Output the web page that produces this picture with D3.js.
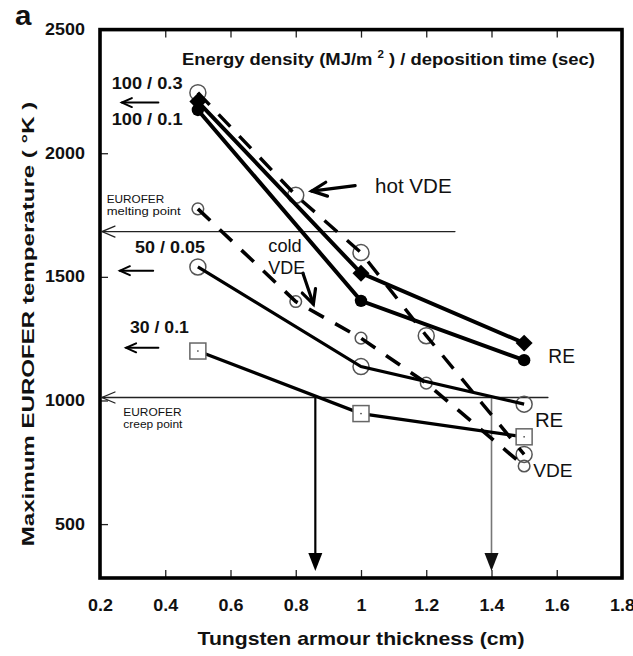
<!DOCTYPE html>
<html>
<head>
<meta charset="utf-8">
<script src="https://cdn.jsdelivr.net/npm/d3@7"></script>
<style>
  body { margin: 0; background: #fff; }
  svg { display: block; }
  text { font-family: "Liberation Sans", Arial, Helvetica, sans-serif; fill: #111; }
</style>
</head>
<body>
<svg id="chart" width="633" height="656"></svg>
<script>
// Tungsten armour thickness (cm) for the runaway-electron (RE) cases
const thickness = [0.5, 1.0, 1.5];
// Maximum EUROFER temperature (K), RE cases
const re100s03 = [2209, 1515, 1232];   // 100 MJ/m2 / 0.3 s  (filled diamonds)
const re100s01 = [2175, 1403, 1163];   // 100 MJ/m2 / 0.1 s  (filled circles)
const re50s005 = [1540, 1137, 985];    // 50 MJ/m2 / 0.05 s  (open circles)
const re30s01  = [1200, 947, 853];     // 30 MJ/m2 / 0.1 s   (open squares)

// VDE cases
const vdeThickness = [0.5, 0.8, 1.0, 1.2, 1.5];
const hotVDE  = [2245, 1830, 1598, 1262, 782];
const coldVDE = [1775, 1400, 1252, 1070, 735];

// EUROFER limits (K) and the thicknesses where the creep limit is reached
const meltingPoint = 1683;
const creepPoint = 1012;
const limitThickness = [0.86, 1.4];

const xTicks = [0.2, 0.4, 0.6, 0.8, 1.0, 1.2, 1.4, 1.6, 1.8];
const yTicks = [500, 1000, 1500, 2000, 2500];

const svg = d3.select("#chart");
const x = d3.scaleLinear().domain([0.2, 1.8]).range([100, 622]);
const y = d3.scaleLinear().domain([282, 2500]).range([578, 29.6]);
const [X0, X1] = x.range();
const [Y0, Y1] = y.range();

const FONT = '"Liberation Sans", Arial, Helvetica, sans-serif';

// ---- axes (inward ticks on bottom, top and left) ----
const gx = svg.append("g").attr("transform", `translate(0,${Y0})`)
  .call(d3.axisBottom(x).tickValues(xTicks).tickSize(-8).tickPadding(21.6)
        .tickFormat(d3.format("~g")));
const gxTop = svg.append("g").attr("transform", `translate(0,${Y1})`)
  .call(d3.axisTop(x).tickValues(xTicks).tickSize(-8).tickFormat(() => ""));
const gy = svg.append("g").attr("transform", `translate(${X0},0)`)
  .call(d3.axisLeft(y).tickValues(yTicks).tickSize(-8).tickPadding(13.5)
        .tickFormat(d3.format("d")));

[gx, gxTop, gy].forEach(g => {
  g.attr("font-family", FONT);
  g.select(".domain").remove();
  g.selectAll(".tick line").attr("stroke", "#222").attr("stroke-width", 1.3);
  g.selectAll(".tick text")
    .attr("font-size", 16).attr("font-weight", "bold").attr("fill", "#111")
    .attr("transform", "scale(1.12,1)");
});

// plot frame
svg.append("rect")
  .attr("x", X0).attr("y", Y1).attr("width", X1 - X0).attr("height", Y0 - Y1)
  .attr("fill", "none").attr("stroke", "#000").attr("stroke-width", 3.6);

// ---- arrow helpers ----
function arrowHead(x1, y1, x2, y2, len, half) {
  const a = Math.atan2(y2 - y1, x2 - x1);
  const bx = x2 - len * Math.cos(a), by = y2 - len * Math.sin(a);
  const px = -Math.sin(a) * half, py = Math.cos(a) * half;
  return [[bx + px, by + py], [x2, y2], [bx - px, by - py]];
}
function openArrow(p1, p2, opt) {
  const [x1, y1, x2, y2] = [x(p1[0]), y(p1[1]), x(p2[0]), y(p2[1])];
  const g = svg.append("g").attr("stroke", opt.color || "#000")
    .attr("stroke-width", opt.width).attr("fill", "none")
    .attr("stroke-linecap", "round").attr("stroke-linejoin", "miter");
  g.append("line").attr("x1", x1).attr("y1", y1).attr("x2", x2).attr("y2", y2);
  g.append("path").attr("d", d3.line()(arrowHead(x1, y1, x2, y2, opt.len, opt.half)));
}
function solidArrow(p1, p2, opt) {
  const [x1, y1, x2, y2] = [x(p1[0]), y(p1[1]), x(p2[0]), y(p2[1])];
  svg.append("line").attr("x1", x1).attr("y1", y1).attr("x2", x2).attr("y2", y2 - opt.len + 2)
    .attr("stroke", opt.color).attr("stroke-width", opt.width);
  svg.append("path").attr("d", d3.line()(arrowHead(x1, y1, x2, y2, opt.len, opt.half)) + "Z")
    .attr("fill", opt.headColor || opt.color).attr("stroke", "none");
}

// ---- EUROFER melting / creep reference lines ----
openArrow([1.288, meltingPoint], [0.206, meltingPoint], { width: 1.3, len: 13, half: 5.5, color: "#222" });
openArrow([1.573, creepPoint], [0.206, creepPoint], { width: 1.3, len: 13, half: 5.5, color: "#222" });
solidArrow([limitThickness[0], creepPoint], [limitThickness[0], 310],
  { width: 2.2, len: 18, half: 7, color: "#000" });
solidArrow([limitThickness[1], creepPoint], [limitThickness[1], 310],
  { width: 1.6, len: 18, half: 7, color: "#777", headColor: "#111" });

// ---- series ----
const line = d3.line().x(d => x(d[0])).y(d => y(d[1]));
const pts = (xs, ys) => xs.map((v, i) => [v, ys[i]]);

// open circles sit under the lines
function openCircles(data, r, sw) {
  svg.append("g").selectAll("circle").data(data).join("circle")
    .attr("cx", d => x(d[0])).attr("cy", d => y(d[1])).attr("r", r)
    .attr("fill", "none").attr("stroke", "#555").attr("stroke-width", sw);
}
openCircles(pts(vdeThickness, hotVDE), 8, 1.5);
openCircles(pts(vdeThickness, coldVDE), 5.8, 1.5);
openCircles(pts(thickness, re50s005), 8, 1.5);

function drawLine(data, w, dash) {
  svg.append("path").datum(data).attr("d", line)
    .attr("fill", "none").attr("stroke", "#000").attr("stroke-width", w)
    .attr("stroke-dasharray", dash || null);
}
drawLine(pts(vdeThickness, hotVDE), 3.4, "17,13");
drawLine(pts(vdeThickness, coldVDE), 3.6, "17,13");
drawLine(pts(thickness, re100s03), 4);
drawLine(pts(thickness, re100s01), 4);
drawLine(pts(thickness, re50s005), 3.2);
drawLine(pts(thickness, re30s01), 3.2);

// open squares (30 / 0.1)
const sq = svg.append("g").selectAll("g").data(pts(thickness, re30s01)).join("g")
  .attr("transform", d => `translate(${x(d[0])},${y(d[1])})`);
sq.append("rect").attr("x", -8).attr("y", -8).attr("width", 16).attr("height", 16)
  .attr("fill", "#fff").attr("stroke", "#666").attr("stroke-width", 1.5);
sq.append("rect").attr("x", -0.7).attr("y", -0.7).attr("width", 1.4).attr("height", 1.4).attr("fill", "#333");

// filled diamonds (100 / 0.3) and filled circles (100 / 0.1)
svg.append("g").selectAll("path").data(pts(thickness, re100s03)).join("path")
  .attr("transform", d => `translate(${x(d[0])},${y(d[1])}) rotate(45)`)
  .attr("d", "M-6,-6H6V6H-6Z").attr("fill", "#000");
svg.append("g").selectAll("circle").data(pts(thickness, re100s01)).join("circle")
  .attr("cx", d => x(d[0])).attr("cy", d => y(d[1])).attr("r", 6.2).attr("fill", "#000");

// ---- label arrows ----
openArrow([0.379, 2205], [0.267, 2205], { width: 2, len: 10, half: 4.5 });
openArrow([0.363, 1525], [0.261, 1525], { width: 2, len: 10, half: 4.5 });
openArrow([0.379, 1213], [0.280, 1213], { width: 2, len: 10, half: 4.5 });
openArrow([0.982, 1869], [0.849, 1847], { width: 3.2, len: 15, half: 7 });
openArrow([0.822, 1515], [0.854, 1390], { width: 3.2, len: 14, half: 7 });

// ---- text ----
function label(str, px, py, o) {
  const t = svg.append("text")
    .attr("font-size", o.size).attr("font-weight", o.bold ? "bold" : "normal")
    .attr("text-anchor", o.anchor || "start");
  if (o.build) o.build(t); else t.text(str);
  const w0 = t.node().getBBox().width;
  const s = o.width ? o.width / w0 : 1;
  t.attr("transform", `translate(${px},${py}) rotate(${o.rotate || 0}) scale(${s},1)`);
  return t;
}
const at = (vx, vy) => [x(vx), y(vy)];

label("a", 15, 25, { size: 27, bold: true, width: 17.5 });
label("100 / 0.3", ...at(0.2359, 2258), { size: 16, bold: true, width: 71 });
label("100 / 0.1", ...at(0.2359, 2114), { size: 16, bold: true, width: 71 });
label("50 / 0.05", ...at(0.3073, 1595), { size: 16, bold: true, width: 70 });
label("30 / 0.1", ...at(0.292, 1274), { size: 16, bold: true, width: 59 });
label("EUROFER", ...at(0.2205, 1797), { size: 11.5, width: 57.6 });
label("melting point", ...at(0.2205, 1750), { size: 11.5, width: 75 });
label("EUROFER", ...at(0.2714, 937), { size: 11.5, width: 58.3 });
label("creep point", ...at(0.2714, 888), { size: 11.5, width: 60 });
label("cold", ...at(0.716, 1602), { size: 18, width: 33.4 });
label("VDE", ...at(0.716, 1512), { size: 18, width: 37 });
label("hot VDE", ...at(1.043, 1838), { size: 20, width: 76.7 });
label("RE", ...at(1.574, 1150), { size: 20, width: 26.7 });
label("RE", ...at(1.533, 894), { size: 20, width: 28.3 });
label("VDE", ...at(1.528, 692), { size: 19, width: 39.3 });

label(null, 182, 65, {
  size: 16, bold: true, width: 413,
  build: t => {
    t.append("tspan").text("Energy density (MJ/m ");
    t.append("tspan").attr("font-size", 10).attr("dy", -7).text("2");
    t.append("tspan").attr("dy", 7).text(" ) / deposition time (sec)");
  }
});
label("Tungsten armour thickness (cm)", 361, 645, { size: 18, bold: true, width: 327, anchor: "middle" });
label("Maximum EUROFER temperature ( \u00B0K )", 34, 324, { size: 17, bold: true, width: 445, anchor: "middle", rotate: -90 });
</script>
</body>
</html>
